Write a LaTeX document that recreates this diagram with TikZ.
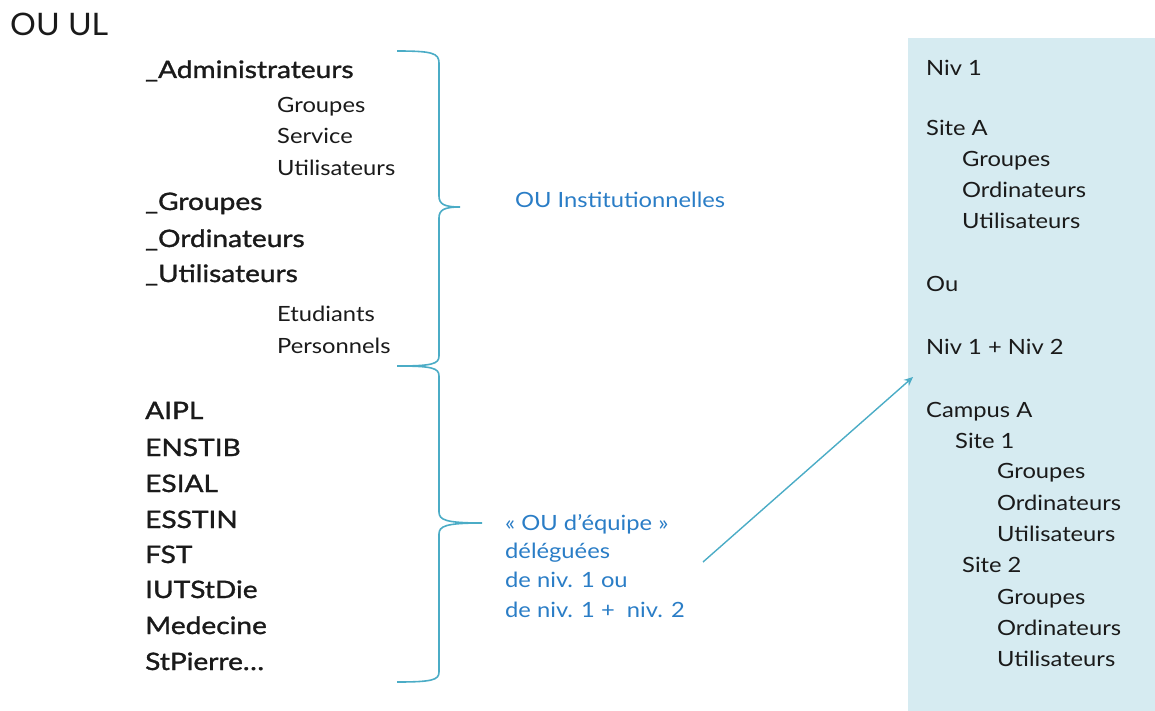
\documentclass[tikz,border=0pt]{standalone}
\usepackage{fontspec}
\setmainfont{Lato}[FakeStretch=1.13]
\newfontfamily\medfont{Lato}[FakeStretch=1.17,FakeBold=1.3]
\newfontfamily\titlefont{Lato}[FakeStretch=1.04]
\usetikzlibrary{arrows.meta}
\definecolor{brace}{HTML}{4BACC6}
\definecolor{bluetxt}{HTML}{2A7DC6}
\definecolor{panel}{HTML}{D6EBF1}
\definecolor{txt}{HTML}{1A1A1A}
\tikzset{
  big/.style={anchor=base west, inner sep=0pt, text=txt, font=\medfont\fontsize{24}{27}\selectfont},
  small/.style={anchor=base west, inner sep=0pt, text=txt, font=\fontsize{21}{24}\selectfont},
  blue/.style={anchor=base west, inner sep=0pt, text=bluetxt, font=\fontsize{21}{24}\selectfont},
  bracestyle/.style={draw=brace, line width=1.6pt},
}
\begin{document}
\begin{tikzpicture}[x=1pt,y=-1pt]
\useasboundingbox (0,0) rectangle (1155,711);
\fill[panel] (908,38) rectangle (1155,711);
% title
\node[anchor=base west, inner sep=0pt, text=txt, font=\titlefont\fontsize{31}{34}\selectfont] (title) at (10,36) {OU UL};
% left list
\node[big] (adm) at (145,78) {\_Administrateurs};
\node[small] (a1) at (277,113) {Groupes};
\node[small] (a2) at (277,144) {Service};
\node[small] (a3) at (277,176) {Utilisateurs};
\node[big] (grp) at (145,210) {\_Groupes};
\node[big] (ord) at (145,247) {\_Ordinateurs};
\node[big] (uti) at (145,282) {\_Utilisateurs};
\node[small] (u1) at (277,321) {Etudiants};
\node[small] (u2) at (277,353) {Personnels};
\node[big] (l1) at (145,419) {AIPL};
\node[big] (l2) at (145,456) {ENSTIB};
\node[big] (l3) at (145,492) {ESIAL};
\node[big] (l4) at (145,528) {ESSTIN};
\node[big] (l5) at (145,563) {FST};
\node[big] (l6) at (145,598) {IUTStDie};
\node[big] (l7) at (145,634) {Medecine};
\node[big] (l8) at (145,670) {StPierre…};
% braces
\draw[bracestyle] (397,51) .. controls (432,51) and (439,53) .. (439,63) -- (439,196)
  .. controls (439,204) and (444,207) .. (460,207)
  .. controls (444,207) and (439,210) .. (439,218) -- (439,356)
  .. controls (439,364) and (432,366) .. (397,366);
\draw[bracestyle] (397,366) .. controls (432,366) and (439,368) .. (439,376) -- (439,512)
  .. controls (439,520) and (446,523) .. (482,523)
  .. controls (446,523) and (439,526) .. (439,534) -- (439,672)
  .. controls (439,680) and (432,682) .. (397,682);
% blue labels
\node[blue] (inst) at (515,208) {OU Institutionnelles};
\node[blue] (eq1) at (505,530) {« OU d’équipe »};
\node[blue] (eq2) at (505,558) {déléguées};
\node[blue] (eq3) at (505,587) {de niv. 1 ou};
\node[blue] (eq4) at (505,617) {de niv. 1 +\ \ niv. 2};
% arrow
\coordinate (as) at (703,562);
\coordinate (ae) at (913,377);
\draw[draw=brace, line width=1.4pt, -{Stealth[length=9pt,width=8pt,open]}] (as) -- (ae);
% right panel
\node[small] (r1) at (926,76) {Niv 1};
\node[small] (r2) at (926,136) {Site A};
\node[small] (r3) at (962,167) {Groupes};
\node[small] (r4) at (962,198) {Ordinateurs};
\node[small] (r5) at (962,229) {Utilisateurs};
\node[small] (r6) at (926,291) {Ou};
\node[small] (r7) at (926,354) {Niv 1 + Niv 2};
\node[small] (r8) at (926,417) {Campus A};
\node[small] (r9) at (955,448) {Site 1};
\node[small] (r10) at (997,478) {Groupes};
\node[small] (r11) at (997,510) {Ordinateurs};
\node[small] (r12) at (997,541) {Utilisateurs};
\node[small] (r13) at (962,572) {Site 2};
\node[small] (r14) at (997,604) {Groupes};
\node[small] (r15) at (997,635) {Ordinateurs};
\node[small] (r16) at (997,666) {Utilisateurs};
\end{tikzpicture}
\end{document}
